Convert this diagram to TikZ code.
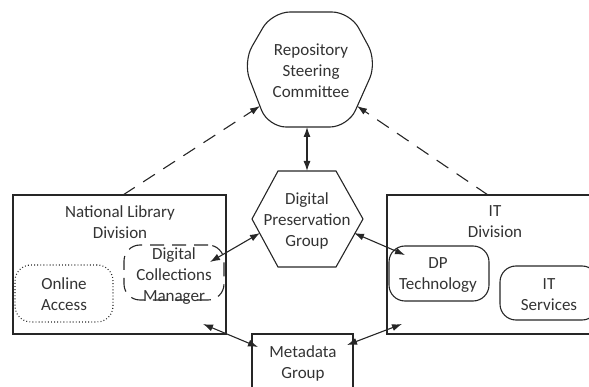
\documentclass[tikz,border=0pt]{standalone}
\usepackage{fontspec}
\setmainfont{Carlito}
\usetikzlibrary{arrows.meta}
\begin{document}
\begin{tikzpicture}[x=1pt,y=-1pt,
  ln/.style={line width=1.1pt, draw=black!85},
  lbl/.style={font=\fontsize{17}{21}\selectfont, text=black!80, align=center, inner sep=0pt},
  divbox/.style={ln, rectangle, inner sep=0pt},
  unitbox/.style={ln, rectangle, rounded corners=16pt, inner sep=0pt},
  tip/.tip={Latex[length=10pt,width=7pt]},
  arr/.style={ln, tip-tip},
  dasharr/.style={ln, dash pattern=on 14pt off 10pt, -tip}]
\useasboundingbox (0,0) rectangle (589,387);

% division boxes
\node[divbox, minimum width=213pt, minimum height=139pt] (nld) at (119.5,264.5) {};
\node[lbl] (nldt) at (120,222) {National Library\\Division};
\node[divbox, minimum width=210pt, minimum height=139pt] (itd) at (492,264.5) {};
\node[lbl] (itdt) at (495,222) {IT\\Division};
\node[divbox, minimum width=101pt, minimum height=70pt] (meta) at (302.5,369) {};
\node[lbl] (metat) at (303,363) {Metadata\\Group};

% units
\node[unitbox, dash pattern=on 0.9pt off 2.2pt, minimum width=98pt, minimum height=57pt] (oa) at (64,293.5) {};
\node[lbl] (oat) at (64,294) {Online\\Access};
\node[unitbox, dash pattern=on 14pt off 8pt, minimum width=100pt, minimum height=55pt] (dcm) at (174,272.5) {};
\node[lbl] (dcmt) at (174,276) {Digital\\Collections\\Manager};
\node[unitbox, minimum width=100pt, minimum height=55pt] (dpt) at (439,273.5) {};
\node[lbl] (dptt) at (438,275) {DP\\Technology};
\node[unitbox, minimum width=98pt, minimum height=54pt] (its) at (549,293) {};
\node[lbl] (itst) at (549,295) {IT\\Services};

% hexagons
\draw[ln] (307,171) -- (336,171) -- (363,219) -- (336,267) -- (278,267) -- (252,219) -- (278,171) -- cycle;
\node[lbl] (dpg) at (307,221) {Digital\\Preservation\\Group};
\draw[ln, rounded corners=18pt] (311,12) -- (350,12) -- (377,62) -- (348,127) -- (268,127) -- (243,62) -- (272,12) -- cycle;
\node[lbl] (rsc) at (311,71) {Repository\\Steering\\Committee};

% connector ends
\coordinate (rscB) at (307,127);
\coordinate (dpgT) at (307,171);
\coordinate (rscL) at (260,106);
\coordinate (rscR) at (357,106);
\coordinate (nldT) at (123,195);
\coordinate (itdT) at (488,195);
\coordinate (dpgL) at (260,233);
\coordinate (dpgR) at (354,233);
\coordinate (dcmA) at (210,262);
\coordinate (dptA) at (405,255);
\coordinate (nldA) at (203,324);
\coordinate (itdA) at (402,324);
\coordinate (metaL) at (258,347);
\coordinate (metaR) at (347,345);

% connectors
\draw[arr] (rscB) -- (dpgT);
\draw[dasharr] (nldT) -- (rscL);
\draw[dasharr] (itdT) -- (rscR);
\draw[arr] (dpgL) -- (dcmA);
\draw[arr] (dpgR) -- (dptA);
\draw[arr] (nldA) -- (metaL);
\draw[arr] (itdA) -- (metaR);
\end{tikzpicture}
\end{document}
